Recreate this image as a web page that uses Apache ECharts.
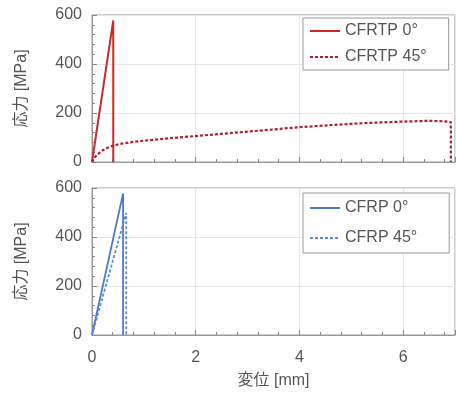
<!DOCTYPE html>
<html>
<head>
<meta charset="utf-8">
<script src="https://cdn.jsdelivr.net/npm/echarts@6/dist/echarts.min.js"></script>
<style>
html,body{margin:0;padding:0;background:#fff;}
#chart{width:456px;height:394px;}
</style>
</head>
<body>
<div id="chart"></div>
<script>
// ---- data ----
const xTicks = [0, 2, 4, 6];
const yTicks = [0, 200, 400, 600];

const cfrtp0X = [0, 0.41, 0.41];
const cfrtp0Y = [0, 578, 0];

const cfrtp45X = [0, 0.05, 0.1, 0.2, 0.3, 0.42, 0.6, 0.8, 1.0, 1.5, 2.0, 2.5, 3.0, 3.5, 4.0, 4.5, 5.0, 5.5, 6.0, 6.5, 6.8, 6.92, 6.92];
const cfrtp45Y = [0, 18, 30, 47, 58, 68, 76, 82, 87, 97, 106, 115, 124, 133, 142, 149, 156, 161, 165, 168, 166, 163, 0];

const cfrp0X = [0, 0.6, 0.6];
const cfrp0Y = [0, 578, 0];

const cfrp45X = [0, 0.66, 0.66];
const cfrp45Y = [0, 498, 0];

const seriesNames = ['CFRTP 0°', 'CFRTP 45°', 'CFRP 0°', 'CFRP 45°'];

function pairs(xs, ys) { return xs.map((x, i) => [x, ys[i]]); }

const FONT = "'Liberation Sans', Arial, 'Noto Sans CJK JP', sans-serif";
const labelColor = '#555';

function xAxis(gridIndex, showLabel) {
  return {
    type: 'value', gridIndex: gridIndex, min: 0, max: 7, interval: 2,
    name: showLabel ? '変位 [mm]' : '',
    nameLocation: 'middle', nameGap: 38,
    nameTextStyle: { fontSize: 16, color: labelColor, fontFamily: FONT },
    axisLine: { show: true, lineStyle: { color: '#999' } },
    axisTick: { show: true, inside: true, length: 5, lineStyle: { color: '#888' } },
    minorTick: { show: true, splitNumber: 5, length: 3, lineStyle: { color: '#888' } },
    splitLine: { show: true, lineStyle: { color: '#e6e6e6' } },
    axisLabel: {
      show: showLabel, fontSize: 16, color: labelColor, fontFamily: FONT, margin: 15,
      showMaxLabel: false,
      formatter: v => (xTicks.indexOf(v) >= 0 ? String(v) : '')
    }
  };
}
function yAxis(gridIndex) {
  return {
    type: 'value', gridIndex: gridIndex, min: 0, max: 600, interval: 200,
    name: '応力 [MPa]', nameLocation: 'middle', nameGap: 62, nameRotate: 90,
    nameTextStyle: { fontSize: 16, color: labelColor, fontFamily: FONT },
    axisLine: { show: true, lineStyle: { color: '#999' } },
    axisTick: { show: true, inside: true, length: 5, lineStyle: { color: '#888' } },
    minorTick: { show: true, splitNumber: 5, length: 3, lineStyle: { color: '#888' } },
    splitLine: { show: true, lineStyle: { color: '#e6e6e6' } },
    axisLabel: {
      fontSize: 16, color: labelColor, fontFamily: FONT, margin: 10,
      formatter: v => (yTicks.indexOf(v) >= 0 ? String(v) : '')
    }
  };
}
function legend(names, top, pad, gap) {
  return {
    data: names, orient: 'vertical', left: 303, top: top,
    padding: pad, itemGap: gap, itemWidth: 30, itemHeight: 12,
    borderColor: '#999', borderWidth: 1, backgroundColor: '#fff',
    itemStyle: { opacity: 0 },
    textStyle: { fontSize: 16, color: labelColor, fontFamily: FONT },
    selectedMode: false
  };
}

const chart = echarts.init(document.getElementById('chart'), null, { renderer: 'canvas' });
chart.setOption({
  animation: false,
  backgroundColor: '#fff',
  grid: [
    { left: 92, top: 15, width: 363, height: 147, show: true, borderColor: '#999', borderWidth: 1, backgroundColor: 'transparent' },
    { left: 92, top: 188, width: 363, height: 147, show: true, borderColor: '#999', borderWidth: 1, backgroundColor: 'transparent' }
  ],
  xAxis: [xAxis(0, false), xAxis(1, true)],
  yAxis: [yAxis(0), yAxis(1)],
  legend: [
    legend([seriesNames[0], seriesNames[1]], 18, [5, 22, 5, 6], 10),
    legend([seriesNames[2], seriesNames[3]], 193, [7, 32, 7, 6], 14)
  ],
  series: [
    { name: seriesNames[0], type: 'line', xAxisIndex: 0, yAxisIndex: 0, showSymbol: false, symbol: 'none',
      data: pairs(cfrtp0X, cfrtp0Y), color: '#cc2a2a', lineStyle: { width: 2, color: '#cc2a2a' } },
    { name: seriesNames[1], type: 'line', xAxisIndex: 0, yAxisIndex: 0, showSymbol: false, symbol: 'none',
      data: pairs(cfrtp45X, cfrtp45Y), color: '#b01e2e', lineStyle: { width: 2.2, type: [3, 2], color: '#b01e2e' } },
    { name: seriesNames[2], type: 'line', xAxisIndex: 1, yAxisIndex: 1, showSymbol: false, symbol: 'none',
      data: pairs(cfrp0X, cfrp0Y), color: '#4a7acb', lineStyle: { width: 1.8, color: '#4a7acb' } },
    { name: seriesNames[3], type: 'line', xAxisIndex: 1, yAxisIndex: 1, showSymbol: false, symbol: 'none',
      data: pairs(cfrp45X, cfrp45Y), color: '#5a8ad8', lineStyle: { width: 1.8, type: [3, 2], color: '#5a8ad8' } }
  ]
});
</script>
</body>
</html>
